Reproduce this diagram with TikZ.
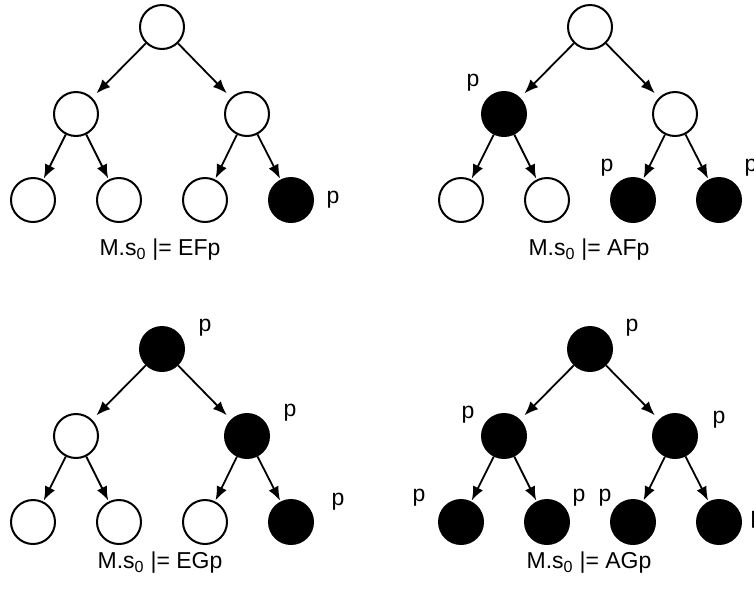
\documentclass[tikz,border=0pt]{standalone}
\usepackage{fontspec}
\setmainfont{Liberation Sans}
\usetikzlibrary{arrows.meta}
\tikzset{
  st/.style={circle, draw=black, line width=2pt, minimum size=44pt, inner sep=0pt},
  wst/.style={st, fill=white},
  bst/.style={st, fill=black},
  edge/.style={line width=1.8pt, -{Latex[length=14pt,width=11pt]}},
  upper/.style={edge, shorten >=6pt},
  lower/.style={edge, shorten >=1pt},
  plab/.style={inner sep=0pt, font=\fontsize{23pt}{27pt}\selectfont},
  formula/.style={inner sep=0pt, font=\fontsize{23pt}{27pt}\selectfont}
}
\begin{document}
\begin{tikzpicture}[x=1pt,y=-1pt]
\useasboundingbox (0,0) rectangle (754,590);
% ---- Tree 1: EFp
\node[wst] (a0) at (162,27) {};
\node[wst] (a1) at (76,114) {};
\node[wst] (a2) at (247,114) {};
\node[wst] (a3) at (33,200) {};
\node[wst] (a4) at (119,200) {};
\node[wst] (a5) at (205,200) {};
\node[bst] (a6) at (291,200) {};
\draw[upper] (a0) -- (a1);
\draw[upper] (a0) -- (a2);
\draw[lower] (a1) -- (a3);
\draw[lower] (a1) -- (a4);
\draw[lower] (a2) -- (a5);
\draw[lower] (a2) -- (a6);
\node[plab] (pa6) at (333,200) {p};
\node[formula] (ca) at (160,250) {M.s\textsubscript{0} |= EFp};
% ---- Tree 2: AFp
\node[wst] (b0) at (590,27) {};
\node[bst] (b1) at (504,114) {};
\node[wst] (b2) at (675,114) {};
\node[wst] (b3) at (461,200) {};
\node[wst] (b4) at (547,200) {};
\node[bst] (b5) at (633,200) {};
\node[bst] (b6) at (719,200) {};
\draw[upper] (b0) -- (b1);
\draw[upper] (b0) -- (b2);
\draw[lower] (b1) -- (b3);
\draw[lower] (b1) -- (b4);
\draw[lower] (b2) -- (b5);
\draw[lower] (b2) -- (b6);
\node[plab] (pb1) at (473,83) {p};
\node[plab] (pb5) at (607,168) {p};
\node[plab] (pb6) at (751,168) {p};
\node[formula] (cb) at (589,250) {M.s\textsubscript{0} |= AFp};
% ---- Tree 3: EGp
\node[bst] (c0) at (162,349) {};
\node[wst] (c1) at (76,436) {};
\node[bst] (c2) at (247,436) {};
\node[wst] (c3) at (33,522) {};
\node[wst] (c4) at (119,522) {};
\node[wst] (c5) at (205,522) {};
\node[bst] (c6) at (291,522) {};
\draw[upper] (c0) -- (c1);
\draw[upper] (c0) -- (c2);
\draw[lower] (c1) -- (c3);
\draw[lower] (c1) -- (c4);
\draw[lower] (c2) -- (c5);
\draw[lower] (c2) -- (c6);
\node[plab] (pc0) at (205,328) {p};
\node[plab] (pc2) at (290,413) {p};
\node[plab] (pc6) at (338,502) {p};
\node[formula] (cc) at (160,563) {M.s\textsubscript{0} |= EGp};
% ---- Tree 4: AGp
\node[bst] (d0) at (590,349) {};
\node[bst] (d1) at (504,436) {};
\node[bst] (d2) at (675,436) {};
\node[bst] (d3) at (461,522) {};
\node[bst] (d4) at (547,522) {};
\node[bst] (d5) at (633,522) {};
\node[bst] (d6) at (719,522) {};
\draw[upper] (d0) -- (d1);
\draw[upper] (d0) -- (d2);
\draw[lower] (d1) -- (d3);
\draw[lower] (d1) -- (d4);
\draw[lower] (d2) -- (d5);
\draw[lower] (d2) -- (d6);
\node[plab] (pd0) at (632,328) {p};
\node[plab] (pd1) at (468,415) {p};
\node[plab] (pd2) at (719,420) {p};
\node[plab] (pd3) at (419,498) {p};
\node[plab] (pd4) at (579,498) {p};
\node[plab] (pd5) at (605,498) {p};
\node[plab] (pd6) at (757,520) {p};
\node[formula] (cd) at (589,563) {M.s\textsubscript{0} |= AGp};
\end{tikzpicture}
\end{document}
